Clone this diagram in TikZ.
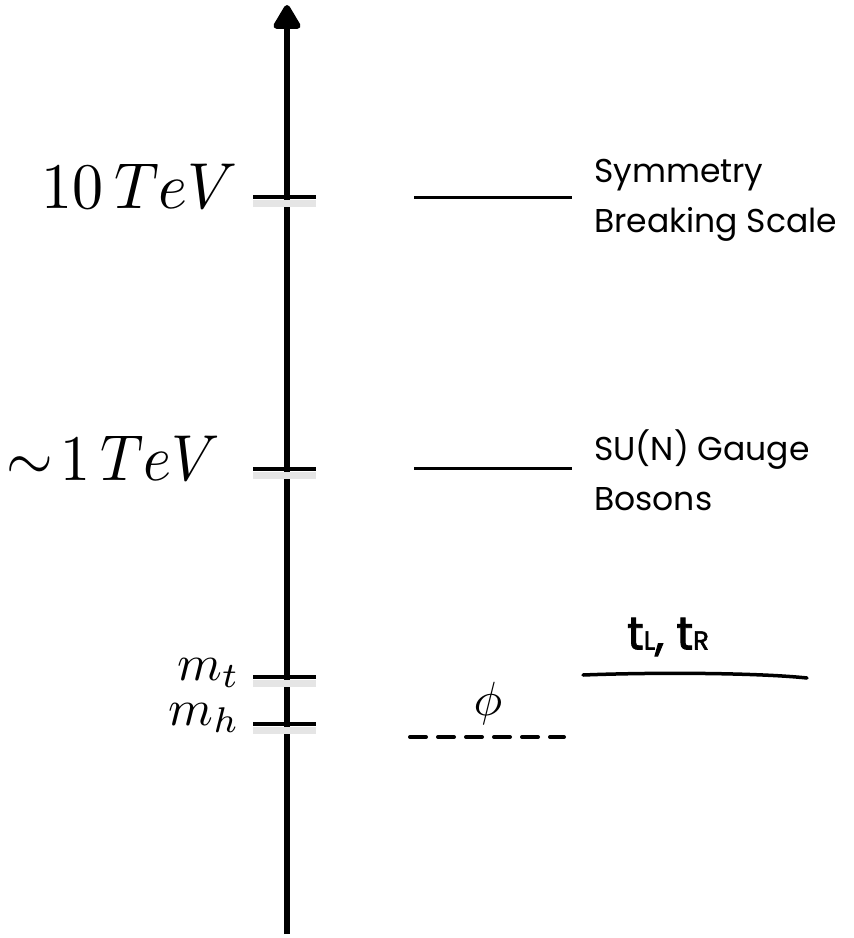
\documentclass[tikz,border=0pt]{standalone}
\usepackage{fontspec}
\setmainfont{Poppins}
\newfontfamily\handfont[FakeBold=2]{Poppins}
\usetikzlibrary{arrows.meta,calc}

\begin{document}
\begin{tikzpicture}[x=1pt,y=-1pt,
  axis/.style={line width=6pt,-{Triangle[round,width=30pt,length=27pt]}},
  tickmark/.style={line width=4pt,
    preaction={draw=black!10,line width=7pt,transform canvas={yshift=-6pt}}},
  level/.style={line width=3pt},
  scalelabel/.style={anchor=base east,inner sep=0pt},
  masslabel/.style={anchor=base east,inner sep=0pt},
  desc/.style={anchor=west,inner sep=0pt,align=left,font=\fontsize{33}{50}\selectfont},
  hand/.style={line width=3.5pt,line cap=round}]

% ---------- Parameter (Hoehen der Skalen, in px) ----------
\def\yten{197}
\def\yone{469}
\def\ymt{677}
\def\ymh{724}
\def\xax{287}

% Bildgroesse wie Vorlage
\useasboundingbox (0,0) rectangle (854,938);

% ===================
% Energieachse
% ===================
\coordinate (axb) at (\xax,934);
\coordinate (axt) at (\xax,5);
\draw[axis] (axb) -- (axt);

% Striche auf der Achse
\foreach \yy/\nm in {\yten/ten,\yone/one,\ymt/mt,\ymh/mh}{
  \coordinate (\nm-l) at (253,\yy);
  \coordinate (\nm-r) at (316,\yy);
  \draw[tickmark] (\nm-l) -- (\nm-r);
}

% Beschriftung links (Mathe skaliert)
\node[scalelabel] (lten) at (238,208) {\scalebox{6.2}[6.5]{$10\,TeV$}};
\node[scalelabel] (lone) at (220,480) {\scalebox{6.0}[6.5]{$\sim\!1\,TeV$}};
\node[masslabel] (lmt) at (240,680) {\scalebox{5.1}{$m_t$}};
\node[masslabel] (lmh) at (240,725) {\scalebox{5.1}{$m_h$}};

% ===================
% Niveaus rechts
% ===================
\coordinate (sb-l) at (414,\yten);
\coordinate (sb-r) at (572,\yten);
\draw[level] (sb-l) -- (sb-r);
\node[desc] (sbtxt) at (594,200) {Symmetry\\Breaking Scale};

\coordinate (gb-l) at (414,468);
\coordinate (gb-r) at (572,468);
\draw[level] (gb-l) -- (gb-r);
\node[desc] (gbtxt) at (594,470) {SU(N) Gauge\\Bosons};

% top-Quarks (handgezeichnet)
\coordinate (tq-l) at (583,675);
\coordinate (tq-r) at (807,678);
\draw[hand] (tq-l) .. controls (660,672) and (760,673) .. (tq-r);
\node[inner sep=0pt,font=\handfont\fontsize{46}{48}\selectfont] (tqtxt) at (668,637)
  {t{\fontsize{26}{26}\selectfont L}, t{\fontsize{26}{26}\selectfont R}};

% Higgs (gestrichelt)
\coordinate (phi-l) at (410,737);
\coordinate (phi-r) at (564,737);
\draw[hand,line width=4pt,dash pattern=on 16pt off 12pt] (phi-l) -- (phi-r);
\node[inner sep=0pt] (phitxt) at (488,703) {\scalebox{4.8}{$\phi$}};

\end{tikzpicture}
\end{document}
